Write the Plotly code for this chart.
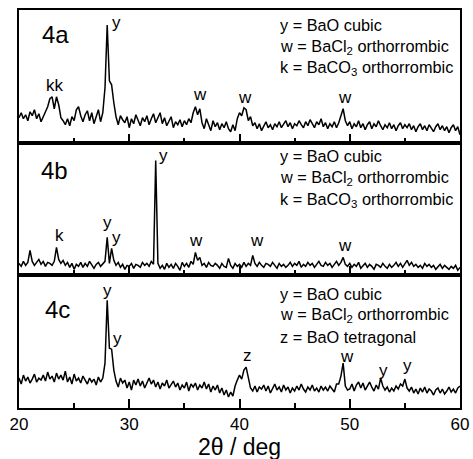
import numpy as np
import plotly.graph_objects as go
from plotly.subplots import make_subplots

# 2-theta scan grid (deg): 20.0 .. 60.0 in 0.2 deg steps
two_theta_start = 20.0
two_theta_step = 0.2
n_points = 201
two_theta = np.round(two_theta_start + two_theta_step * np.arange(n_points), 1)

# Intensities (a.u.), one row per degree: x.0, x.2, x.4, x.6, x.8
int_4a = [
    25, 30, 24, 28, 22,   # 20
    31, 27, 33, 24, 29,   # 21
    21, 26, 30, 36, 44,   # 22
    46, 34, 46, 38, 25,   # 23
    22, 18, 24, 17, 26,   # 24
    22, 33, 36, 27, 21,   # 25
    28, 32, 22, 30, 19,   # 26
    26, 33, 21, 30, 55,   # 27
    118, 62, 58, 40, 26,  # 28
    18, 27, 23, 20, 26,   # 29
    15, 24, 19, 28, 22,   # 30
    17, 25, 21, 27, 18,   # 31
    24, 29, 20, 26, 30,   # 32
    19, 25, 17, 22, 26,   # 33
    15, 21, 18, 23, 16,   # 34
    22, 18, 24, 20, 30,   # 35
    36, 28, 34, 20, 14,   # 36
    24, 18, 12, 22, 16,   # 37
    20, 13, 19, 15, 21,   # 38
    14, 11, 18, 12, 24,   # 39
    30, 27, 35, 33, 22,   # 40
    26, 17, 20, 14, 19,   # 41
    12, 17, 21, 15, 18,   # 42
    13, 19, 16, 21, 15,   # 43
    18, 22, 16, 20, 14,   # 44
    19, 17, 22, 18, 15,   # 45
    21, 17, 23, 19, 15,   # 46
    21, 18, 24, 16, 20,   # 47
    14, 19, 16, 21, 15,   # 48
    20, 26, 34, 22, 17,   # 49
    21, 14, 19, 16, 22,   # 50
    15, 19, 13, 18, 21,   # 51
    14, 19, 16, 22, 17,   # 52
    13, 18, 15, 20, 14,   # 53
    18, 12, 17, 20, 14,   # 54
    18, 15, 19, 13, 17,   # 55
    11, 16, 19, 13, 17,   # 56
    12, 18, 15, 11, 16,   # 57
    19, 13, 17, 12, 16,   # 58
    10, 15, 18, 12, 16,   # 59
    8,                    # 60
]

int_4b = [
    12, 9, 14, 10, 13,    # 20
    25, 14, 10, 13, 16,   # 21
    11, 14, 9, 13, 12,    # 22
    10, 14, 28, 16, 12,   # 23
    15, 10, 13, 8, 12,    # 24
    6, 11, 9, 13, 8,      # 25
    12, 9, 14, 10, 7,     # 26
    11, 13, 9, 12, 14,    # 27
    38, 12, 27, 15, 10,   # 28
    13, 8, 11, 6, 10,     # 29
    9, 12, 7, 11, 10,     # 30
    8, 13, 10, 12, 9,     # 31
    14, 11, 115, 12, 7,   # 32
    10, 6, 12, 8, 11,     # 33
    7, 12, 9, 5, 13,      # 34
    9, 12, 8, 14, 11,     # 35
    23, 15, 18, 10, 12,   # 36
    8, 13, 10, 9, 12,     # 37
    10, 7, 12, 9, 8,      # 38
    17, 10, 7, 12, 9,     # 39
    11, 8, 13, 9, 12,     # 40
    10, 20, 12, 9, 13,    # 41
    10, 8, 12, 11, 9,     # 42
    13, 10, 7, 12, 9,     # 43
    11, 8, 10, 13, 9,     # 44
    12, 10, 14, 8, 11,    # 45
    9, 13, 10, 12, 8,     # 46
    11, 14, 10, 9, 13,    # 47
    10, 12, 8, 11, 14,    # 48
    10, 13, 18, 11, 9,    # 49
    12, 8, 11, 9, 13,     # 50
    7, 10, 12, 8, 11,     # 51
    9, 6, 11, 10, 8,      # 52
    12, 9, 7, 11, 8,      # 53
    10, 13, 9, 12, 8,     # 54
    11, 15, 10, 13, 9,    # 55
    11, 8, 10, 7, 12,     # 56
    9, 11, 8, 10, 6,      # 57
    9, 11, 7, 10, 8,      # 58
    6, 9, 7, 10, 5,       # 59
    8,                    # 60
]

int_4c = [
    30, 24, 33, 27, 31,   # 20
    25, 29, 34, 26, 30,   # 21
    28, 33, 27, 36, 29,   # 22
    32, 26, 35, 29, 33,   # 23
    28, 37, 26, 31, 24,   # 24
    34, 27, 30, 25, 32,   # 25
    28, 24, 30, 26, 29,   # 26
    23, 31, 26, 30, 45,   # 27
    108, 60, 59, 38, 27,  # 28
    21, 30, 25, 28, 20,   # 29
    26, 18, 28, 23, 29,   # 30
    22, 27, 20, 25, 30,   # 31
    24, 28, 21, 26, 19,   # 32
    25, 22, 28, 20, 24,   # 33
    27, 21, 25, 18, 23,   # 34
    20, 26, 17, 24, 21,   # 35
    25, 18, 23, 20, 26,   # 36
    19, 24, 16, 22, 18,   # 37
    23, 15, 20, 13, 18,   # 38
    11, 16, 12, 22, 28,   # 39
    33, 29, 38, 41, 30,   # 40
    20, 17, 22, 16, 21,   # 41
    19, 23, 17, 22, 15,   # 42
    20, 24, 18, 21, 16,   # 43
    23, 18, 21, 15, 20,   # 44
    17, 22, 18, 24, 19,   # 45
    16, 21, 18, 23, 17,   # 46
    20, 16, 22, 18, 21,   # 47
    17, 22, 19, 16, 24,   # 48
    24, 32, 45, 22, 18,   # 49
    19, 24, 17, 23, 26,   # 50
    20, 25, 18, 22, 26,   # 51
    21, 17, 23, 19, 30,   # 52
    22, 18, 21, 16, 20,   # 53
    17, 22, 19, 24, 22,   # 54
    29, 20, 17, 21, 15,   # 55
    19, 14, 20, 16, 21,   # 56
    15, 19, 17, 13, 18,   # 57
    20, 15, 19, 14, 17,   # 58
    21, 16, 19, 15, 20,   # 59
    22,                   # 60
]

panel_names = ["4a", "4b", "4c"]
panel_data = [int_4a, int_4b, int_4c]
panel_name_pos = [(21.9, 108), (21.8, 105), (22.15, 99)]

legend_lines = [
    ["y = BaO cubic", "w = BaCl<sub>2</sub> orthorrombic", "k = BaCO<sub>3</sub> orthorrombic"],
    ["y = BaO cubic", "w = BaCl<sub>2</sub> orthorrombic", "k = BaCO<sub>3</sub> orthorrombic"],
    ["y = BaO cubic", "w = BaCl<sub>2</sub> orthorrombic", "z = BaO tetragonal"],
]
legend_heights = [[118, 96, 75], [120, 98, 76], [114, 93, 71]]

# peak labels: (text, 2theta, intensity position)
peak_labels = [
    [("kk", 23.27, 57), ("y", 28.85, 120), ("w", 36.4, 48), ("w", 40.5, 45), ("w", 49.55, 45)],
    [("k", 23.7, 40), ("y", 28.05, 53), ("y", 28.8, 38), ("y", 33.1, 120),
     ("w", 36.05, 35), ("w", 41.6, 35), ("w", 49.55, 30)],
    [("y", 28.05, 118), ("y", 28.9, 70), ("z", 40.7, 53), ("w", 49.75, 52),
     ("y", 53.1, 38), ("y", 55.25, 43)],
]

FONT = "Liberation Sans, Arial, sans-serif"

fig = make_subplots(rows=3, cols=1, shared_xaxes=False, vertical_spacing=0)

for i, (name, ydata) in enumerate(zip(panel_names, panel_data)):
    row = i + 1
    fig.add_trace(
        go.Scatter(x=two_theta, y=ydata, mode="lines",
                   line=dict(color="black", width=1.5), showlegend=False, name=name),
        row=row, col=1,
    )
    xref = "x" if row == 1 else f"x{row}"
    yref = "y" if row == 1 else f"y{row}"
    nx, ny = panel_name_pos[i]
    fig.add_annotation(x=nx, y=ny, xref=xref, yref=yref, text=name, showarrow=False,
                       xanchor="left", yanchor="middle",
                       font=dict(family=FONT, size=24, color="black"))
    for txt, h in zip(legend_lines[i], legend_heights[i]):
        fig.add_annotation(x=43.45, y=h, xref=xref, yref=yref, text=txt, showarrow=False,
                           xanchor="left", yanchor="middle",
                           font=dict(family=FONT, size=16.3, color="black"))
    for txt, xx, h in peak_labels[i]:
        fig.add_annotation(x=xx, y=h, xref=xref, yref=yref, text=txt, showarrow=False,
                           xanchor="center", yanchor="middle",
                           font=dict(family=FONT, size=17, color="black"))

    fig.update_xaxes(
        row=row, col=1, range=[20, 60], showline=True, mirror=True, linewidth=2,
        linecolor="black", ticks="inside", ticklen=9, tickwidth=2, tickcolor="black",
        dtick=10, tick0=20, showgrid=False, zeroline=False, automargin=False,
        showticklabels=(row == 3),
        tickfont=dict(family=FONT, size=17, color="black"),
        minor=dict(dtick=5, tick0=20, ticks="inside", ticklen=5, tickwidth=2,
                   tickcolor="black", showgrid=False),
    )
    fig.update_yaxes(
        row=row, col=1, range=[0, 133], showline=True, mirror=True, linewidth=2,
        linecolor="black", ticks="", showticklabels=False, showgrid=False,
        zeroline=False, automargin=False,
    )

fig.add_annotation(x=0.5, y=-0.097, xref="paper", yref="paper", text="2θ / deg",
                   showarrow=False, xanchor="center", yanchor="middle",
                   font=dict(family=FONT, size=23, color="black"))

fig.update_layout(
    width=473, height=459,
    margin=dict(l=19, r=13, t=10, b=51),
    paper_bgcolor="white", plot_bgcolor="white",
    showlegend=False,
)

fig.write_html(
    "out.html",
    config={"displayModeBar": False},
    post_script="document.body.style.margin='0';document.body.style.overflow='hidden';",
)
